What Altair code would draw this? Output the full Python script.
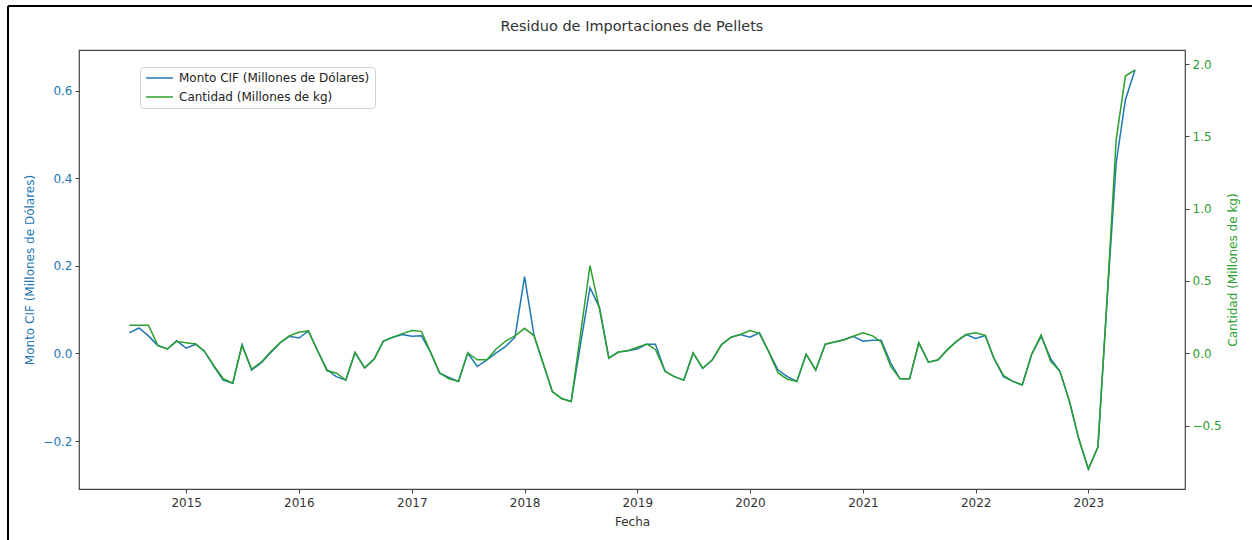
import altair as alt
import pandas as pd

# Monthly residual series, Jul 2014 - Jun 2023
fechas = pd.date_range("2014-07-01", periods=108, freq="MS").strftime("%Y-%m-%d").tolist()

monto_cif = [
    0.047, 0.058, 0.040, 0.018, 0.010, 0.029,
    0.012, 0.021, 0.005, -0.030, -0.061, -0.068,
    0.020, -0.038, -0.022, 0.001, 0.024, 0.039,
    0.035, 0.051, 0.007, -0.037, -0.053, -0.061,
    0.002, -0.033, -0.013, 0.028, 0.037, 0.043,
    0.039, 0.040, 0.005, -0.045, -0.055, -0.064,
    0.001, -0.030, -0.015, 0.001, 0.016, 0.037,
    0.175, 0.040, -0.020, -0.087, -0.103, -0.110,
    0.020, 0.150, 0.104, -0.011, 0.003, 0.006,
    0.010, 0.021, 0.021, -0.041, -0.053, -0.061,
    0.001, -0.034, -0.015, 0.020, 0.037, 0.043,
    0.037, 0.047, 0.005, -0.038, -0.053, -0.064,
    -0.002, -0.038, 0.021, 0.026, 0.031, 0.039,
    0.028, 0.030, 0.030, -0.022, -0.058, -0.058,
    0.024, -0.020, -0.015, 0.008, 0.028, 0.043,
    0.034, 0.041, -0.011, -0.053, -0.064, -0.072,
    -0.003, 0.039, -0.012, -0.041, -0.110, -0.195,
    -0.264, -0.214, 0.104, 0.434, 0.579, 0.647,
]

cantidad = [
    0.194, 0.194, 0.194, 0.055, 0.030, 0.082,
    0.073, 0.064, 0.015, -0.085, -0.176, -0.206,
    0.055, -0.109, -0.061, 0.009, 0.073, 0.121,
    0.145, 0.155, 0.021, -0.121, -0.136, -0.185,
    0.006, -0.100, -0.039, 0.085, 0.112, 0.136,
    0.158, 0.152, 0.015, -0.136, -0.176, -0.194,
    0.003, -0.045, -0.045, 0.030, 0.085, 0.121,
    0.173, 0.121, -0.061, -0.264, -0.312, -0.333,
    0.130, 0.606, 0.303, -0.033, 0.009, 0.018,
    0.042, 0.064, 0.027, -0.124, -0.161, -0.185,
    0.003, -0.103, -0.045, 0.061, 0.112, 0.130,
    0.158, 0.136, 0.015, -0.136, -0.179, -0.194,
    -0.006, -0.115, 0.064, 0.079, 0.094, 0.118,
    0.142, 0.121, 0.079, -0.091, -0.176, -0.176,
    0.073, -0.061, -0.045, 0.024, 0.085, 0.130,
    0.142, 0.124, -0.033, -0.152, -0.194, -0.218,
    -0.009, 0.127, -0.055, -0.124, -0.333, -0.591,
    -0.800, -0.648, 0.315, 1.476, 1.917, 1.959,
]

lbl_monto = "Monto CIF (Millones de Dólares)"
lbl_cant = "Cantidad (Millones de kg)"
ticks_left = [-0.2, 0.0, 0.2, 0.4, 0.6]
ticks_right = [-0.5, 0.0, 0.5, 1.0, 1.5, 2.0]
years = list(range(2015, 2024))

BLUE = "#1f77b4"
GREEN = "#2ca02c"
DARK = "#333333"
FONT = "DejaVu Sans"
FS = 12


def padded(vals, frac=0.05):
    lo, hi = min(vals), max(vals)
    span = hi - lo
    return [lo - frac * span, hi + frac * span]


t = pd.to_datetime(fechas)
tspan = t[-1] - t[0]
t0 = t[0] - 0.05 * tspan
t1 = t[-1] + 0.05 * tspan
x_domain = [
    alt.DateTime(year=t0.year, month=t0.month, date=t0.day, utc=True),
    alt.DateTime(year=t1.year, month=t1.month, date=t1.day, utc=True),
]

df = pd.DataFrame({"fecha": fechas, "monto": monto_cif, "cantidad": cantidad})

color_scale = alt.Scale(domain=[lbl_monto, lbl_cant], range=[BLUE, GREEN])

# short horizontal stroke used as the legend handle (about 27 px long)
handle = "M-1,0L4.4,0"

legend = alt.Legend(
    title=None,
    orient="none",
    legendX=61,
    legendY=17,
    direction="vertical",
    symbolType=handle,
    symbolSize=100,
    symbolStrokeWidth=1.5,
    labelFont=FONT,
    labelFontSize=FS,
    labelColor="#222222",
    labelLimit=400,
    labelOffset=22,
    rowPadding=7,
    padding=5,
    strokeColor="#d0d0d0",
    fillColor="white",
    cornerRadius=3,
)

x_enc = alt.X(
    "fecha:T",
    scale=alt.Scale(type="utc", domain=x_domain),
    axis=alt.Axis(
        values=[alt.DateTime(year=y, month=1, date=1, utc=True) for y in years],
        format="%Y",
        formatType="utc",
        title="Fecha",
        labelColor=DARK,
        titleColor=DARK,
        labelFontSize=FS,
        titleFontSize=FS,
        titleFontWeight="normal",
        labelPadding=4,
        titlePadding=8,
        tickColor="#444",
        tickSize=4,
        grid=False,
        domain=False,
        labelFont=FONT,
        titleFont=FONT,
    ),
)

base = alt.Chart(df)

line_monto = base.transform_calculate(serie=f"'{lbl_monto}'").mark_line(strokeWidth=1.5).encode(
    x=x_enc,
    y=alt.Y(
        "monto:Q",
        scale=alt.Scale(domain=padded(monto_cif), nice=False, zero=False),
        axis=alt.Axis(
            orient="left",
            values=ticks_left,
            format=".1f",
            title=lbl_monto,
            labelColor=BLUE,
            titleColor=BLUE,
            labelFontSize=FS,
            titleFontSize=FS,
            titleFontWeight="normal",
            labelPadding=3,
            titlePadding=6,
            tickColor="#444",
            tickSize=4,
            grid=False,
            domain=False,
            labelFont=FONT,
            titleFont=FONT,
        ),
    ),
    color=alt.Color("serie:N", scale=color_scale, legend=legend),
)

line_cant = base.transform_calculate(serie=f"'{lbl_cant}'").mark_line(strokeWidth=1.5).encode(
    x=x_enc,
    y=alt.Y(
        "cantidad:Q",
        scale=alt.Scale(domain=padded(cantidad), nice=False, zero=False),
        axis=alt.Axis(
            orient="right",
            values=ticks_right,
            format=".1f",
            title=lbl_cant,
            titleAngle=270,
            labelColor=GREEN,
            titleColor=GREEN,
            labelFontSize=FS,
            titleFontSize=FS,
            titleFontWeight="normal",
            labelPadding=3,
            titlePadding=18,
            tickColor="#444",
            tickSize=4,
            grid=False,
            domain=False,
            labelFont=FONT,
            titleFont=FONT,
        ),
    ),
    color=alt.Color("serie:N", scale=color_scale, legend=legend),
)

# figure border along the top and left edges
frame = alt.Chart(alt.Data(values=[{}]))
border_top = frame.mark_rule(color="black", strokeWidth=2).encode(
    x=alt.value(-71), x2=alt.value(1173), y=alt.value(-44)
)
border_left = frame.mark_rule(color="black", strokeWidth=2).encode(
    x=alt.value(-71), y=alt.value(-44), y2=alt.value(490)
)

chart = (
    alt.layer(line_monto, line_cant, border_top, border_left)
    .resolve_scale(y="independent")
    .properties(
        width=1106,
        height=439,
        autosize=alt.AutoSizeParams(type="none"),
        padding={"left": 79, "top": 50, "right": 67, "bottom": 51},
        title=alt.TitleParams(
            "Residuo de Importaciones de Pellets",
            anchor="middle",
            font=FONT,
            fontSize=14.5,
            fontWeight="normal",
            color=DARK,
            offset=19,
            dy=48,
        ),
        background="white",
    )
    .configure_view(stroke="#444444", strokeWidth=1.2)
)

chart.save("out.html", embed_options={"renderer": "svg", "actions": False})
